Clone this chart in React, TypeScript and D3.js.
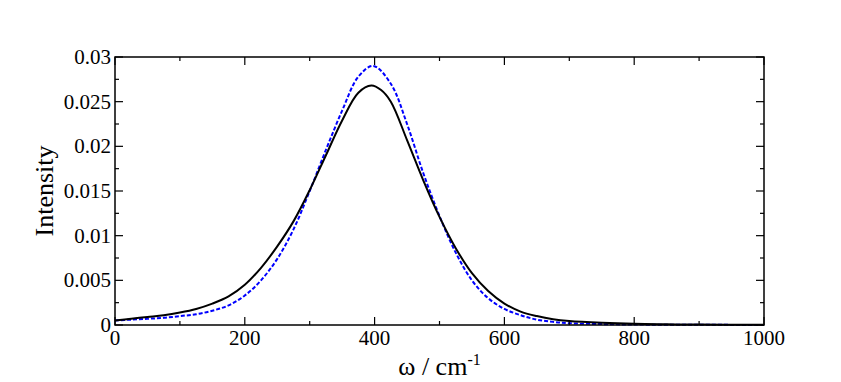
import React from 'react';
import * as d3 from 'd3';

// wavenumber grid (cm^-1) and intensities
const omegaBlack = [0, 25, 50, 75, 100, 125, 150, 175, 200, 225, 250, 275, 300, 325, 350, 375, 395, 410, 425, 450, 475, 500, 525, 550, 575, 600, 625, 650, 675, 700, 750, 800, 850, 900, 1000];
const intensityBlack = [0.0005, 0.0007, 0.0009, 0.0011, 0.0014, 0.0018, 0.0024, 0.0032, 0.0045, 0.0064, 0.0088, 0.0116, 0.0151, 0.0190, 0.0229, 0.0260, 0.0268, 0.0263, 0.0250, 0.0207, 0.0162, 0.0121, 0.0086, 0.0058, 0.0038, 0.0024, 0.0015, 0.0010, 0.00065, 0.00045, 0.00025, 0.00013, 0.00008, 0.00005, 0.00002];

const omegaBlue = [0, 25, 50, 75, 100, 125, 150, 175, 200, 225, 250, 275, 300, 325, 350, 375, 398, 425, 450, 475, 500, 525, 550, 575, 600, 625, 650, 675, 700, 750, 800, 900, 1000];
const intensityBlue = [0.0005, 0.0006, 0.0007, 0.0008, 0.0010, 0.0012, 0.0016, 0.0022, 0.0033, 0.0050, 0.0074, 0.0107, 0.0150, 0.0196, 0.0240, 0.0278, 0.0290, 0.0270, 0.0225, 0.0170, 0.0122, 0.0081, 0.0050, 0.0030, 0.0018, 0.0011, 0.0006, 0.00035, 0.0002, 0.0001, 0.00005, 0.00002, 0.00001];

const xMajor = [0, 200, 400, 600, 800, 1000];
const xMinor = [100, 300, 500, 700, 900];
const yMajor = [0, 0.005, 0.01, 0.015, 0.02, 0.025, 0.03];
const yMinor = [0.0025, 0.0075, 0.0125, 0.0175, 0.0225, 0.0275];

export default function App() {
  const W = 841, H = 382;
  const left = 115, right = 764, top = 57, bottom = 325;

  const x = d3.scaleLinear().domain([0, 1000]).range([left, right]);
  const y = d3.scaleLinear().domain([0, 0.03]).range([bottom, top]);

  const line = d3.line<[number, number]>()
    .x(d => x(d[0]))
    .y(d => y(d[1]))
    .curve(d3.curveCatmullRom.alpha(0.5));

  const black = omegaBlack.map((w, i) => [w, intensityBlack[i]] as [number, number]);
  const blue = omegaBlue.map((w, i) => [w, intensityBlue[i]] as [number, number]);

  const font = "'Liberation Serif', 'Times New Roman', serif";
  const majLen = 8, minLen = 4;

  return (
    <svg width={W} height={H} style={{ position: 'absolute', left: 0, top: 0, background: '#fff' }}>
      <path d={line(blue) || ''} fill="none" stroke="#0000ff" strokeWidth={2} strokeDasharray="4,2" />
      <path d={line(black) || ''} fill="none" stroke="#000" strokeWidth={2} />

      <rect x={left} y={top} width={right - left} height={bottom - top} fill="none" stroke="#000" strokeWidth={1.5} />

      {/* x ticks, bottom and top, pointing in */}
      {xMajor.map(v => (
        <g key={'xM' + v}>
          <line x1={x(v)} x2={x(v)} y1={bottom} y2={bottom - majLen} stroke="#000" strokeWidth={1.2} />
          <line x1={x(v)} x2={x(v)} y1={top} y2={top + majLen} stroke="#000" strokeWidth={1.2} />
          <text x={x(v)} y={345} textAnchor="middle" fontFamily={font} fontSize={21}>{v}</text>
        </g>
      ))}
      {xMinor.map(v => (
        <g key={'xm' + v}>
          <line x1={x(v)} x2={x(v)} y1={bottom} y2={bottom - minLen} stroke="#000" strokeWidth={1.2} />
          <line x1={x(v)} x2={x(v)} y1={top} y2={top + minLen} stroke="#000" strokeWidth={1.2} />
        </g>
      ))}

      {/* y ticks, left and right */}
      {yMajor.map(v => (
        <g key={'yM' + v}>
          <line x1={left} x2={left + majLen} y1={y(v)} y2={y(v)} stroke="#000" strokeWidth={1.2} />
          <line x1={right} x2={right - majLen} y1={y(v)} y2={y(v)} stroke="#000" strokeWidth={1.2} />
          <text x={111} y={y(v) + 7} textAnchor="end" fontFamily={font} fontSize={21}>{String(+v.toFixed(4))}</text>
        </g>
      ))}
      {yMinor.map(v => (
        <g key={'ym' + v}>
          <line x1={left} x2={left + minLen} y1={y(v)} y2={y(v)} stroke="#000" strokeWidth={1.2} />
          <line x1={right} x2={right - minLen} y1={y(v)} y2={y(v)} stroke="#000" strokeWidth={1.2} />
        </g>
      ))}

      <text x={(left + right) / 2} y={375} textAnchor="middle" fontFamily={font} fontSize={26}>
        ω / cm<tspan dy={-10} fontSize={16}>-1</tspan>
      </text>
      <text transform={`translate(53,${(top + bottom) / 2}) rotate(-90)`} textAnchor="middle" fontFamily={font} fontSize={26}>
        Intensity
      </text>
    </svg>
  );
}
